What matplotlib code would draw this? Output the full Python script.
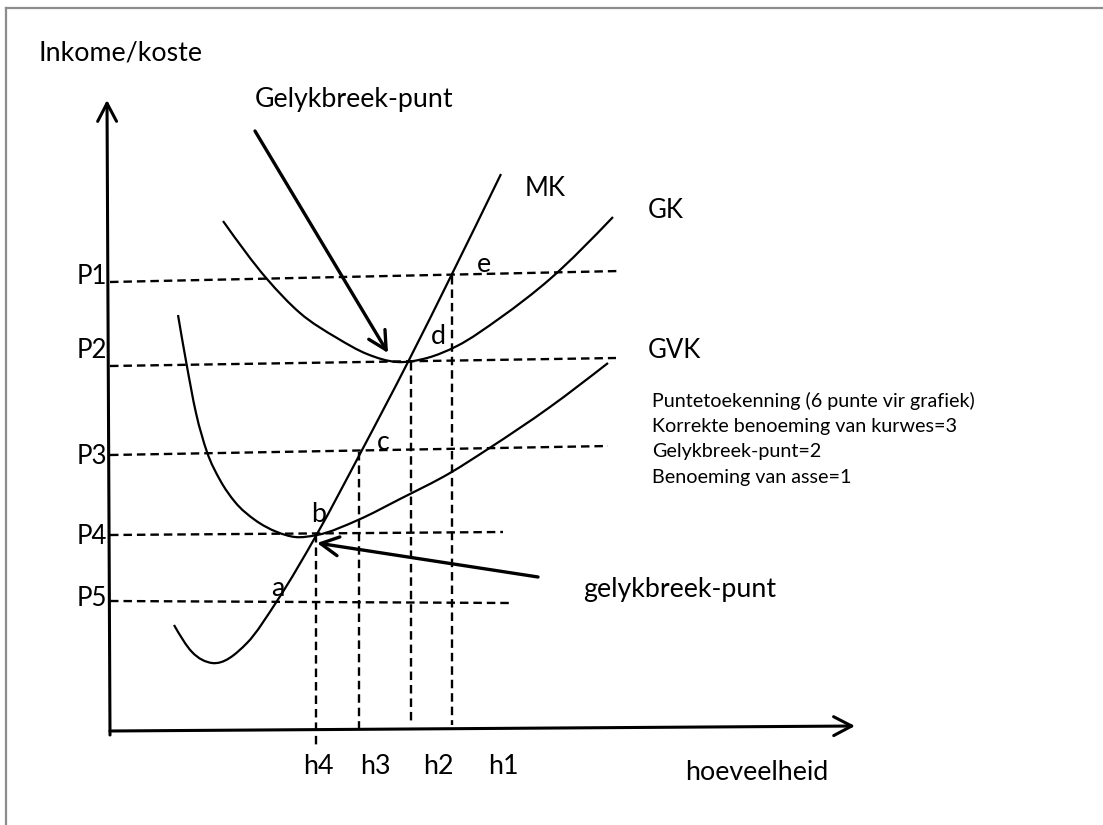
import numpy as np
import matplotlib
matplotlib.use('Agg')
import matplotlib.pyplot as plt
from matplotlib.path import Path
from matplotlib.patches import PathPatch
from matplotlib.lines import Line2D

plt.rcParams['font.family'] = ['Lato', 'DejaVu Sans']

# kurwes (hoeveelheid, koste) - afgelees uit die skets
mk_q = [64, 82, 102, 137, 167, 207, 251, 298, 341, 391]
mk_c = [106, 79, 68, 88, 130, 197, 279, 369, 455, 557]

gk_q = [113, 157, 190, 227, 257, 287, 317, 347, 390, 440, 503]
gk_c = [510, 452, 418, 393, 377, 369, 373, 385, 413, 452, 514]

gvk_q = [68, 76, 86, 97, 110, 125, 145, 167, 185, 207, 248, 290, 340, 378, 440, 498]
gvk_c = [416, 370, 318, 279, 251, 229, 211, 199, 194, 196, 211, 232, 258, 282, 324, 368]

# pryslyne P1..P5 (begin- en eindhoogte, eindpunt)
p_labels = ['P1', 'P2', 'P3', 'P4', 'P5']
p_start = [449, 365, 276, 196, 130]
p_end = [460, 373, 285, 199, 128]
p_end_q = [510, 506, 498, 393, 400]

# hoeveelheidslyne
h_q = [206, 249, 301, 342]
h_top = [197, 279, 369, 455]
h_bottom = [-14, 0, 9, 6]
h_labels = ['h4', 'h3', 'h2', 'h1']
h_label_q = [208, 265, 328, 393]

# punte op die kurwes
pt_labels = ['a', 'b', 'c', 'd', 'e']
pt_q = [168, 209, 273, 328, 374]
pt_c = [143, 216, 288, 395, 467]

score_lines = ['Puntetoekenning (6 punte vir grafiek)',
               'Korrekte benoeming van kurwes=3',
               'Gelykbreek-punt=2',
               'Benoeming van asse=1']


def smooth_path(xs, ys):
    # kubiese Hermite-kurwe deur die afgelese punte
    x = np.asarray(xs, float)
    y = np.asarray(ys, float)
    h = np.diff(x)
    d = np.diff(y) / h
    m = np.empty_like(x)
    m[1:-1] = (d[:-1] * h[1:] + d[1:] * h[:-1]) / (h[:-1] + h[1:])
    m[0] = 1.5 * d[0] - 0.5 * m[1]
    m[-1] = 1.5 * d[-1] - 0.5 * m[-2]
    verts = [(x[0], y[0])]
    codes = [Path.MOVETO]
    for i in range(len(x) - 1):
        verts += [(x[i] + h[i] / 3, y[i] + m[i] * h[i] / 3),
                  (x[i + 1] - h[i] / 3, y[i + 1] - m[i + 1] * h[i] / 3),
                  (x[i + 1], y[i + 1])]
        codes += [Path.CURVE4] * 3
    return Path(verts, codes)


fig = plt.figure(figsize=(11.03, 8.25), dpi=100)
ax = fig.add_axes([0, 0, 1, 1])
ax.set_xlim(-110, 993)
ax.set_ylim(-94, 731)
ax.axis('off')

# raam
fig.add_artist(Line2D([6 / 1103, 1], [1 - 8 / 825, 1 - 8 / 825], color='#8c8c8c', lw=1.6))
fig.add_artist(Line2D([6 / 1103, 6 / 1103], [0, 1 - 8 / 825], color='#8c8c8c', lw=1.6))

arrow = '->,head_length=1.3,head_width=0.68'
kw = dict(arrowstyle=arrow, lw=2.2, color='black', shrinkA=0, shrinkB=0)

# asse
ax.annotate('', xy=(-3, 631), xytext=(0, -4), arrowprops=kw)
ax.annotate('', xy=(745, 5), xytext=(0, 0), arrowprops=kw)

# kurwes
for xs, ys in [(mk_q, mk_c), (gk_q, gk_c), (gvk_q, gvk_c)]:
    ax.add_patch(PathPatch(smooth_path(xs, ys), fill=False, lw=1.6, edgecolor='black'))

dash = (0, (3.6, 2.1))
for lab, y0, y1, x1 in zip(p_labels, p_start, p_end, p_end_q):
    ax.plot([0, x1], [y0, y1], color='black', lw=1.7, linestyle=dash)
for x, y0, y1 in zip(h_q, h_top, h_bottom):
    ax.plot([x, x], [y0, y1], color='black', lw=1.7, linestyle=dash)

# gelykbreek pyle
ax.annotate('', xy=(278, 378), xytext=(145, 600), arrowprops=dict(kw, lw=2.4))
ax.annotate('', xy=(207, 188), xytext=(428, 154), arrowprops=dict(kw, lw=2.4))

fs = 19.3
ax.text(-72, 678, 'Inkome/koste', fontsize=fs, va='center', ha='left')
ax.text(145, 631, 'Gelykbreek-punt', fontsize=fs, va='center', ha='left')
ax.text(473, 141, 'gelykbreek-punt', fontsize=fs, va='center', ha='left')
ax.text(647, -41, 'hoeveelheid', fontsize=fs, va='center', ha='center')
p_label_c = [454, 381, 275, 195, 133]
for lab, y in zip(p_labels, p_label_c):
    ax.text(-3, y, lab, fontsize=18.5, va='center', ha='right')
for lab, x in zip(h_labels, h_label_q):
    ax.text(x, -36, lab, fontsize=fs, va='center', ha='center')
for lab, x, y in zip(pt_labels, pt_q, pt_c):
    ax.text(x, y, lab, fontsize=fs, va='center', ha='center')
ax.text(415, 542, 'MK', fontsize=18.5, va='center', ha='left')
ax.text(538, 521, 'GK', fontsize=18.5, va='center', ha='left')
ax.text(538, 381, 'GVK', fontsize=18.5, va='center', ha='left')

for i, line in enumerate(score_lines):
    ax.text(542, 330 - 25.5 * i, line, fontsize=14.2, va='center', ha='left')

fig.savefig('out.png', dpi=100)
